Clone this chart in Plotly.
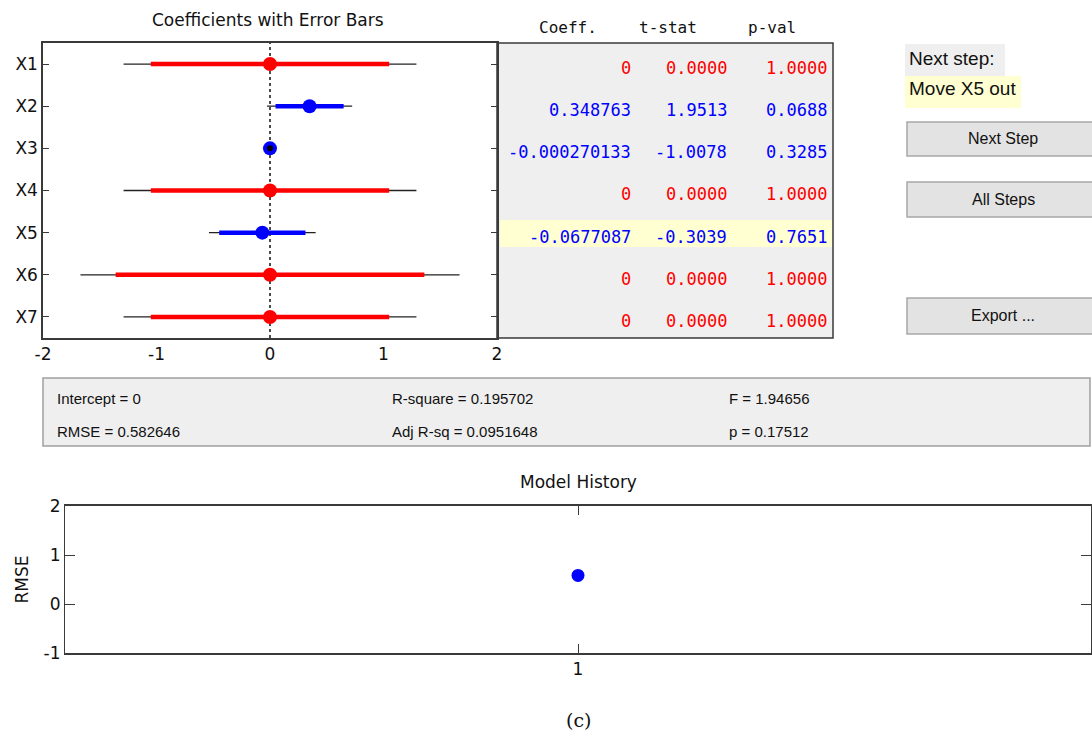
import plotly.graph_objects as go

# ---------------- data ----------------
predictors = ["X1", "X2", "X3", "X4", "X5", "X6", "X7"]
coef = [0.0, 0.348763, -0.000270133, 0.0, -0.0677087, 0.0, 0.0]
in_model = [False, True, True, False, True, False, False]
ci_inner_half = [1.05, 0.30, 0.0004, 1.05, 0.38, 1.36, 1.05]   # thick bar half-width
ci_outer_half = [1.29, 0.375, 0.0005, 1.29, 0.47, 1.67, 1.29]  # thin line half-width
coef_text = ["0", "0.348763", "-0.000270133", "0", "-0.0677087", "0", "0"]
tstat_text = ["0.0000", "1.9513", "-1.0078", "0.0000", "-0.3039", "0.0000", "0.0000"]
pval_text = ["1.0000", "0.0688", "0.3285", "1.0000", "0.7651", "1.0000", "1.0000"]
table_headers = ["Coeff.", "t-stat", "p-val"]
next_step_predictor = "X5"
next_step_action = "Move X5 out"
buttons = ["Next Step", "All Steps", "Export ..."]
stats_rows = [["Intercept = 0", "R-square = 0.195702", "F = 1.94656"],
              ["RMSE = 0.582646", "Adj R-sq = 0.0951648", "p = 0.17512"]]
history_step = [1]
history_rmse = [0.582646]
coef_ticks = [-2, -1, 0, 1, 2]
rmse_ticks = [-1, 0, 1, 2]

# ---------------- geometry helpers ----------------
W, H = 1092, 745
def px(x):
    return x / W
def py(y):
    return 1 - y / H

RED = "#ff0000"
BLUE = "#0000ff"
FRAME = "#3a3a3a"
SANS = "DejaVu Sans"
MONO = "DejaVu Sans Mono"
ARIAL = "Liberation Sans"

fig = go.Figure()
rows = list(range(1, len(predictors) + 1))

# thin (outer) CI lines
for r, c, h in zip(rows, coef, ci_outer_half):
    fig.add_trace(go.Scatter(x=[c - h, c + h], y=[r, r], mode="lines",
                             line=dict(color="#222222", width=1.3),
                             xaxis="x", yaxis="y", showlegend=False, hoverinfo="skip"))
# thick (inner) CI bars
for r, c, h, m in zip(rows, coef, ci_inner_half, in_model):
    fig.add_trace(go.Scatter(x=[c - h, c + h], y=[r, r], mode="lines",
                             line=dict(color=BLUE if m else RED, width=4.5),
                             xaxis="x", yaxis="y", showlegend=False, hoverinfo="skip"))
# coefficient markers
fig.add_trace(go.Scatter(x=coef, y=rows, mode="markers",
                         marker=dict(size=14, color=[BLUE if m else RED for m in in_model],
                                     line=dict(width=0)),
                         xaxis="x", yaxis="y", showlegend=False, hoverinfo="skip"))
# collapsed CI (shorter than the marker) shows as a black centre dot
tiny = [i for i, h in enumerate(ci_outer_half) if h < 0.01]
fig.add_trace(go.Scatter(x=[coef[i] for i in tiny], y=[rows[i] for i in tiny], mode="markers",
                         marker=dict(size=6, color="black"),
                         xaxis="x", yaxis="y", showlegend=False, hoverinfo="skip"))

# model history
fig.add_trace(go.Scatter(x=history_step, y=history_rmse, mode="markers",
                         marker=dict(size=13, color=BLUE),
                         xaxis="x2", yaxis="y2", showlegend=False, hoverinfo="skip"))

# ---------------- axes ----------------
ax_font = dict(family=SANS, size=17, color="#111111")
fig.update_layout(
    width=W, height=H,
    margin=dict(l=0, r=0, t=0, b=0, autoexpand=False),
    paper_bgcolor="white", plot_bgcolor="white",
    xaxis=dict(domain=[px(43), px(497)], anchor="y", range=[-2, 2],
               tickvals=coef_ticks, ticktext=[str(v) for v in coef_ticks],
               ticks="inside", ticklen=0, automargin=False,
               showline=True, linecolor=FRAME, linewidth=1.5, mirror=True,
               showgrid=False, zeroline=False, tickfont=ax_font, fixedrange=True),
    yaxis=dict(domain=[py(338), py(43)], anchor="x", range=[7.5, 0.5],
               tickvals=rows, ticktext=predictors, ticks="inside", ticklen=6,
               automargin=False,
               tickcolor=FRAME, showline=True, linecolor=FRAME, linewidth=1.5,
               mirror="ticks", showgrid=False, zeroline=False, tickfont=ax_font),
    xaxis2=dict(domain=[px(65), px(1091)], anchor="y2", range=[0, 2],
                tickvals=history_step, ticktext=[str(v) for v in history_step],
                ticks="inside", ticklen=9, tickcolor=FRAME, automargin=False,
                showline=True, linecolor=FRAME, linewidth=2, mirror="ticks",
                showgrid=False, zeroline=False, tickfont=ax_font),
    yaxis2=dict(domain=[py(653), py(506)], anchor="x2", range=[-1, 2],
                tickvals=rmse_ticks, ticktext=[str(v) for v in rmse_ticks],
                ticks="inside", ticklen=10, tickcolor=FRAME, automargin=False,
                showline=True, linecolor=FRAME, linewidth=1.2, mirror="ticks",
                showgrid=False, zeroline=False, tickfont=ax_font,
                title=dict(text="RMSE", font=dict(family=SANS, size=17, color="#111"),
                           standoff=10)),
)

shapes = []
annots = []

# zero reference line
shapes.append(dict(type="line", xref="x", yref="paper", x0=0, x1=0,
                   y0=py(338), y1=py(43), line=dict(color="#111", width=1.5, dash="dot"),
                   layer="below"))

# table background
shapes.append(dict(type="rect", xref="paper", yref="paper", x0=px(497), x1=px(833),
                   y0=py(338), y1=py(43), fillcolor="#efefef",
                   line=dict(color=FRAME, width=1.5), layer="below"))
# highlight row of next step
hi = predictors.index(next_step_predictor) + 1
shapes.append(dict(type="rect", xref="paper", yref="y", x0=px(500), x1=px(832),
                   y0=hi - 0.30, y1=hi + 0.34, fillcolor="#ffffd2",
                   line=dict(width=0), layer="below"))

# table headers
for txt, xr in zip(table_headers, [568, 668, 772]):
    annots.append(dict(text=txt, xref="paper", yref="paper", x=px(xr), y=py(27),
                       showarrow=False, xanchor="center", yanchor="middle",
                       font=dict(family=MONO, size=16, color="#111")))
# table cells
col_right = [633, 729, 829]
for r, ct, tt, pt, m in zip(rows, coef_text, tstat_text, pval_text, in_model):
    col = BLUE if m else RED
    for txt, xr in zip([ct, tt, pt], col_right):
        annots.append(dict(text=txt, xref="paper", yref="y", x=px(xr), y=r, yshift=-4,
                           showarrow=False, xanchor="right", yanchor="middle",
                           font=dict(family=MONO, size=17, color=col)))

# titles
annots.append(dict(text="Coefficients with Error Bars", xref="paper", yref="paper",
                   x=px(268), y=py(20), showarrow=False, xanchor="center", yanchor="middle",
                   font=dict(family=SANS, size=17, color="#111")))
annots.append(dict(text="Model History", xref="paper", yref="paper",
                   x=px(578), y=py(482), showarrow=False, xanchor="center", yanchor="middle",
                   font=dict(family=SANS, size=17, color="#111")))
annots.append(dict(text="(c)", xref="paper", yref="paper",
                   x=px(578), y=py(720), showarrow=False, xanchor="center", yanchor="middle",
                   font=dict(family="DejaVu Serif", size=19, color="#111")))

# next step panel
shapes.append(dict(type="rect", xref="paper", yref="paper", x0=px(905), x1=px(1005),
                   y0=py(76), y1=py(44), fillcolor="#efefef", line=dict(width=0)))
shapes.append(dict(type="rect", xref="paper", yref="paper", x0=px(905), x1=px(1021),
                   y0=py(108), y1=py(76), fillcolor="#ffffd2", line=dict(width=0)))
annots.append(dict(text="Next step:", xref="paper", yref="paper", x=px(907), y=py(58),
                   showarrow=False, xanchor="left", yanchor="middle",
                   font=dict(family=ARIAL, size=19, color="#111")))
annots.append(dict(text=next_step_action, xref="paper", yref="paper", x=px(907), y=py(89),
                   showarrow=False, xanchor="left", yanchor="middle",
                   font=dict(family=ARIAL, size=19, color="#111")))

# buttons
for label, (y0, y1) in zip(buttons, [(122, 156), (182, 217), (298, 334)]):
    shapes.append(dict(type="rect", xref="paper", yref="paper", x0=px(907), x1=px(1095),
                       y0=py(y1), y1=py(y0), fillcolor="#e3e3e3",
                       line=dict(color="#a8a8a8", width=1.5)))
    annots.append(dict(text=label, xref="paper", yref="paper", x=px(1003),
                       y=py((y0 + y1) / 2), showarrow=False, xanchor="center",
                       yanchor="middle",
                       font=dict(family=ARIAL, size=16, color="#111")))

# stats panel
shapes.append(dict(type="rect", xref="paper", yref="paper", x0=px(43), x1=px(1090),
                   y0=py(446), y1=py(378), fillcolor="#efefef",
                   line=dict(color="#a0a0a0", width=1.5), layer="below"))
for row_txt, yy in zip(stats_rows, [398, 431]):
    for txt, xx in zip(row_txt, [55, 390, 727]):
        annots.append(dict(text=txt, xref="paper", yref="paper", x=px(xx), y=py(yy),
                           showarrow=False, xanchor="left", yanchor="middle",
                           font=dict(family=ARIAL, size=15, color="#111")))

fig.update_layout(shapes=shapes, annotations=annots)
fig.write_html("out.html", config={"displayModeBar": False},
               post_script="document.body.style.margin='0';document.body.style.overflow='hidden';")
